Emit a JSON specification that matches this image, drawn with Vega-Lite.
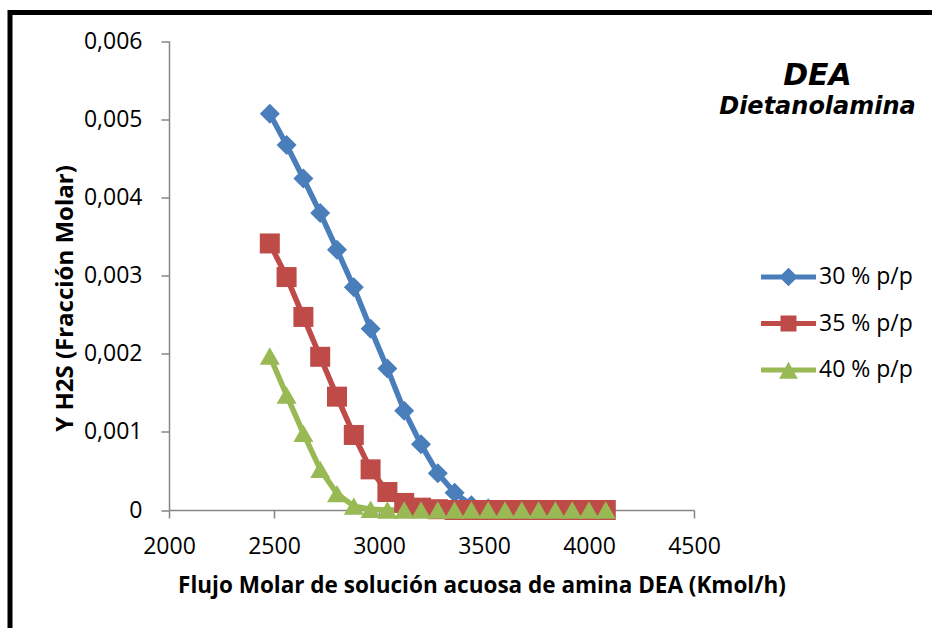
{
  "$schema": "https://vega.github.io/schema/vega-lite/v6.json",
  "autosize": {"type": "none"},
  "padding": {"left": 10, "top": 12.5, "right": 0, "bottom": 0},
  "width": 930,
  "height": 640,
  "background": "#ffffff",
  "config": {
    "view": {"stroke": "#000000", "strokeWidth": 5},
    "axis": {
      "grid": false,
      "domainColor": "#868686",
      "domainWidth": 1.5,
      "tickColor": "#868686",
      "tickWidth": 1.5,
      "tickSize": 8,
      "labelFont": "Open Sans",
      "labelFontSize": 23,
      "labelColor": "#000000",
      "titleFont": "Open Sans",
      "titleFontWeight": "bold",
      "titleColor": "#000000"
    }
  },
  "title": {
    "text": "DEA",
    "subtitle": "Dietanolamina",
    "frame": "group",
    "anchor": "start",
    "align": "center",
    "baseline": "top",
    "dx": 807.5,
    "offset": -106,
    "font": "DejaVu Sans",
    "fontSize": 30,
    "fontStyle": "italic",
    "fontWeight": "bold",
    "color": "#000000",
    "subtitleFont": "DejaVu Sans",
    "subtitleFontSize": 24,
    "subtitleFontStyle": "italic",
    "subtitleFontWeight": "bold",
    "subtitleColor": "#000000",
    "subtitlePadding": 4
  },
  "data": {
    "values": [
      {"x": 2480, "y": 0.00507, "s": "30 % p/p"},
      {"x": 2560, "y": 0.00467, "s": "30 % p/p"},
      {"x": 2640, "y": 0.00424, "s": "30 % p/p"},
      {"x": 2720, "y": 0.00380, "s": "30 % p/p"},
      {"x": 2800, "y": 0.00333, "s": "30 % p/p"},
      {"x": 2880, "y": 0.00285, "s": "30 % p/p"},
      {"x": 2960, "y": 0.00232, "s": "30 % p/p"},
      {"x": 3040, "y": 0.00181, "s": "30 % p/p"},
      {"x": 3120, "y": 0.00127, "s": "30 % p/p"},
      {"x": 3200, "y": 0.00084, "s": "30 % p/p"},
      {"x": 3280, "y": 0.00047, "s": "30 % p/p"},
      {"x": 3360, "y": 0.00022, "s": "30 % p/p"},
      {"x": 3440, "y": 0.00006, "s": "30 % p/p"},
      {"x": 3520, "y": 0.00002, "s": "30 % p/p"},
      {"x": 3600, "y": 0, "s": "30 % p/p"},
      {"x": 3680, "y": 0, "s": "30 % p/p"},
      {"x": 3760, "y": 0, "s": "30 % p/p"},
      {"x": 3840, "y": 0, "s": "30 % p/p"},
      {"x": 3920, "y": 0, "s": "30 % p/p"},
      {"x": 4000, "y": 0, "s": "30 % p/p"},
      {"x": 4080, "y": 0, "s": "30 % p/p"},
      {"x": 2480, "y": 0.00341, "s": "35 % p/p"},
      {"x": 2560, "y": 0.00298, "s": "35 % p/p"},
      {"x": 2640, "y": 0.00247, "s": "35 % p/p"},
      {"x": 2720, "y": 0.00196, "s": "35 % p/p"},
      {"x": 2800, "y": 0.00145, "s": "35 % p/p"},
      {"x": 2880, "y": 0.00096, "s": "35 % p/p"},
      {"x": 2960, "y": 0.00052, "s": "35 % p/p"},
      {"x": 3040, "y": 0.00023, "s": "35 % p/p"},
      {"x": 3120, "y": 0.00009, "s": "35 % p/p"},
      {"x": 3200, "y": 0.00003, "s": "35 % p/p"},
      {"x": 3280, "y": 0.00001, "s": "35 % p/p"},
      {"x": 3360, "y": 0, "s": "35 % p/p"},
      {"x": 3440, "y": 0, "s": "35 % p/p"},
      {"x": 3520, "y": 0, "s": "35 % p/p"},
      {"x": 3600, "y": 0, "s": "35 % p/p"},
      {"x": 3680, "y": 0, "s": "35 % p/p"},
      {"x": 3760, "y": 0, "s": "35 % p/p"},
      {"x": 3840, "y": 0, "s": "35 % p/p"},
      {"x": 3920, "y": 0, "s": "35 % p/p"},
      {"x": 4000, "y": 0, "s": "35 % p/p"},
      {"x": 4080, "y": 0, "s": "35 % p/p"},
      {"x": 2480, "y": 0.00197, "s": "40 % p/p"},
      {"x": 2560, "y": 0.00147, "s": "40 % p/p"},
      {"x": 2640, "y": 0.00098, "s": "40 % p/p"},
      {"x": 2720, "y": 0.00052, "s": "40 % p/p"},
      {"x": 2800, "y": 0.00021, "s": "40 % p/p"},
      {"x": 2880, "y": 0.00005, "s": "40 % p/p"},
      {"x": 2960, "y": 0.00001, "s": "40 % p/p"},
      {"x": 3040, "y": 0, "s": "40 % p/p"},
      {"x": 3120, "y": 0, "s": "40 % p/p"},
      {"x": 3200, "y": 0, "s": "40 % p/p"},
      {"x": 3280, "y": 0, "s": "40 % p/p"},
      {"x": 3360, "y": 0, "s": "40 % p/p"},
      {"x": 3440, "y": 0, "s": "40 % p/p"},
      {"x": 3520, "y": 0, "s": "40 % p/p"},
      {"x": 3600, "y": 0, "s": "40 % p/p"},
      {"x": 3680, "y": 0, "s": "40 % p/p"},
      {"x": 3760, "y": 0, "s": "40 % p/p"},
      {"x": 3840, "y": 0, "s": "40 % p/p"},
      {"x": 3920, "y": 0, "s": "40 % p/p"},
      {"x": 4000, "y": 0, "s": "40 % p/p"},
      {"x": 4080, "y": 0, "s": "40 % p/p"}
    ]
  },
  "encoding": {
    "x": {
      "field": "x",
      "type": "quantitative",
      "scale": {"domain": [2000, 4500], "range": [159, 684], "nice": false, "zero": false},
      "axis": {
        "values": [2000, 2500, 3000, 3500, 4000, 4500],
        "format": "d",
        "offset": -142.5,
        "labelPadding": 17,
        "labelFlush": false,
        "title": "Flujo Molar de solución acuosa de amina DEA (Kmol/h)",
        "titleFontSize": 22.5,
        "titleX": 471.5,
        "titleY": 82,
        "titleAlign": "center",
        "titleBaseline": "alphabetic"
      }
    },
    "y": {
      "field": "y",
      "type": "quantitative",
      "scale": {"domain": [0, 0.006], "range": [497.5, 28.5], "nice": false},
      "axis": {
        "values": [0, 0.001, 0.002, 0.003, 0.004, 0.005, 0.006],
        "offset": -159,
        "labelPadding": 19,
        "labelFlush": false,
        "labelExpr": "datum.value == 0 ? '0' : replace(format(datum.value, '.3f'), '.', ',')",
        "title": "Y H2S (Fracción Molar)",
        "titleFontSize": 24,
        "titleX": -97,
        "titleY": 285.5,
        "titleAngle": -90,
        "titleAlign": "center",
        "titleBaseline": "alphabetic"
      }
    }
  },
  "layer": [
    {
      "mark": {"type": "line", "strokeWidth": 5.5, "strokeJoin": "round", "strokeCap": "round"},
      "encoding": {
        "color": {
          "field": "s",
          "type": "nominal",
          "scale": {"domain": ["30 % p/p", "35 % p/p", "40 % p/p"], "range": ["#4a7ebb", "#be4b48", "#98b954"]},
          "legend": null
        }
      }
    },
    {
      "mark": {"type": "point", "filled": true, "opacity": 1, "size": 400},
      "encoding": {
        "color": {
          "field": "s",
          "type": "nominal",
          "scale": {"domain": ["30 % p/p", "35 % p/p", "40 % p/p"], "range": ["#4a7ebb", "#be4b48", "#98b954"]},
          "legend": null
        },
        "shape": {
          "field": "s",
          "type": "nominal",
          "scale": {"domain": ["30 % p/p", "35 % p/p", "40 % p/p"], "range": ["diamond", "square", "triangle-up"]},
          "legend": null
        }
      }
    },
    {
      "mark": {"type": "point", "filled": true, "opacity": 0, "size": 10},
      "encoding": {
        "fill": {
          "field": "s",
          "type": "nominal",
          "scale": {"domain": ["30 % p/p", "35 % p/p", "40 % p/p"], "range": ["#4a7ebb", "#be4b48", "#98b954"]},
          "legend": {
            "title": null,
            "orient": "none",
            "legendX": 751,
            "legendY": 237,
            "padding": 0,
            "symbolSize": 3025,
            "symbolStrokeWidth": 0,
            "symbolOpacity": 1,
            "labelFont": "Open Sans",
            "labelFontSize": 23,
            "labelColor": "#000000",
            "labelOffset": 3,
            "rowPadding": 6.5
          }
        },
        "shape": {
          "field": "s",
          "type": "nominal",
          "scale": {
            "domain": ["30 % p/p", "35 % p/p", "40 % p/p"],
            "range": [
              "M-1,-0.09H1V0.09H-1Z M0,-0.34L0.34,0L0,0.34L-0.34,0Z",
              "M-1,-0.09H1V0.09H-1Z M-0.29,-0.29H0.29V0.29H-0.29Z",
              "M-1,-0.09H1V0.09H-1Z M0,-0.3L0.34,0.32H-0.34Z"
            ]
          },
          "legend": {
            "title": null,
            "orient": "none",
            "legendX": 751,
            "legendY": 237,
            "padding": 0,
            "symbolSize": 3025,
            "symbolStrokeWidth": 0,
            "symbolOpacity": 1,
            "labelFont": "Open Sans",
            "labelFontSize": 23,
            "labelColor": "#000000",
            "labelOffset": 3,
            "rowPadding": 6.5
          }
        }
      }
    }
  ],
  "resolve": {
    "scale": {"shape": "independent", "fill": "independent"},
    "legend": {"shape": "independent", "fill": "independent"}
  }
}
